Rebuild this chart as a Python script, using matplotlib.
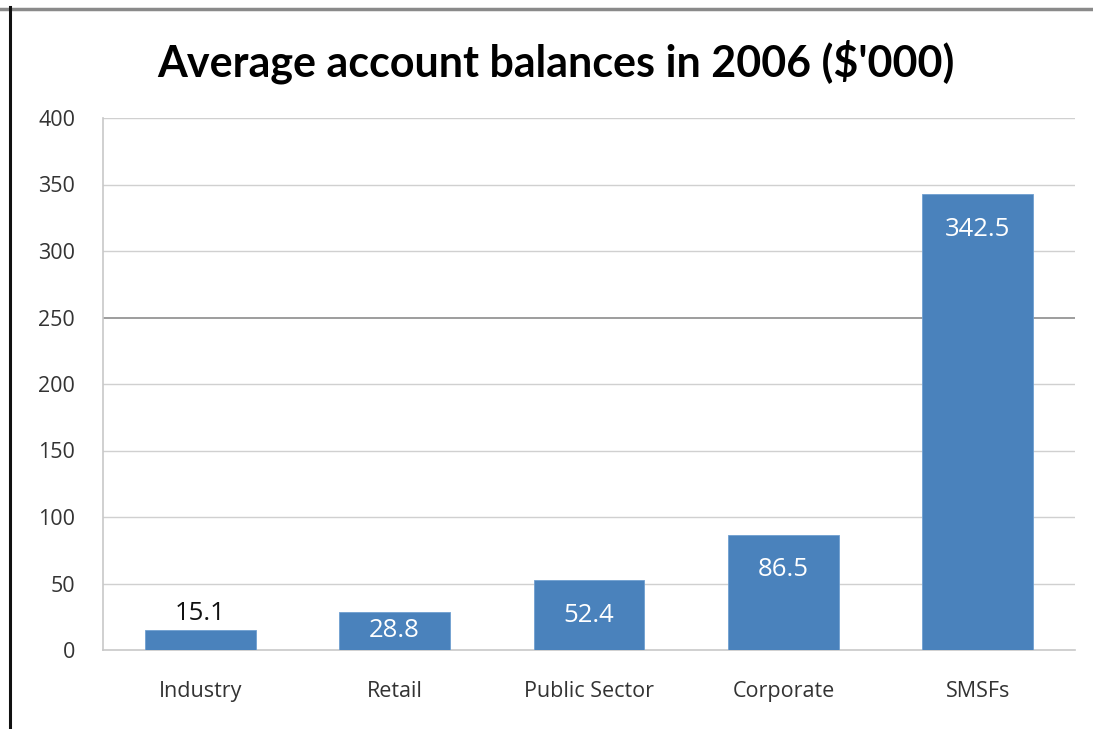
import matplotlib
matplotlib.use("Agg")
import matplotlib.pyplot as plt
from matplotlib.lines import Line2D

categories = ["Industry", "Retail", "Public Sector", "Corporate", "SMSFs"]
values = [15.1, 28.8, 52.4, 86.5, 342.5]
yticks = [0, 50, 100, 150, 200, 250, 300, 350, 400]
title = "Average account balances in 2006 ($'000)"

plt.rcParams['font.family'] = ['Open Sans', 'DejaVu Sans']

W, H = 1093, 729
fig = plt.figure(figsize=(W / 100, H / 100), dpi=100)
ax = fig.add_axes([103 / W, 1 - 650 / H, (1075 - 103) / W, (650 - 118) / H])

x = list(range(len(categories)))
bars = ax.bar(x, values, width=0.57, color="#4a82bc", edgecolor="#6f9fd0",
              linewidth=0.6, zorder=3)

ax.set_xlim(-0.5, len(categories) - 0.5)
ax.set_ylim(0, 400)
ax.set_yticks(yticks)
ax.set_yticklabels([str(t) for t in yticks], fontsize=15.5, color="#333333")
ax.set_xticks(x)
ax.set_xticklabels(categories, fontsize=15.5, color="#333333")
ax.tick_params(axis='y', length=0, pad=20)
ax.tick_params(axis='x', length=0, pad=22)

for t in yticks[1:]:
    col = "#8c8c8c" if t == 250 else "#d0d0d0"
    lw = 1.2 if t == 250 else 1.0
    ax.axhline(t, color=col, lw=lw, zorder=1)

for s in ['top', 'right']:
    ax.spines[s].set_visible(False)
for s in ['left', 'bottom']:
    ax.spines[s].set_color("#c8c8c8")
    ax.spines[s].set_linewidth(1.2)

# value labels
px_per_unit = (650 - 118) / 400
for xi, v in zip(x, values):
    hpx = v * px_per_unit
    if hpx < 25:
        ax.annotate(f"{v}", (xi, v), xytext=(0, 3), textcoords="offset points",
                    ha="center", va="bottom", fontsize=18.5, color="#111111", zorder=4)
    elif hpx < 70:
        ax.annotate(f"{v}", (xi, v / 2), xytext=(0, 0), textcoords="offset points",
                    ha="center", va="center", fontsize=18.5, color="white", zorder=4)
    else:
        ax.annotate(f"{v}", (xi, v), xytext=(0, -25), textcoords="offset points",
                    ha="center", va="center", fontsize=18.5, color="white", zorder=4)

fig.text(556 / W, 1 - 62 / H, title, ha="center", va="center",
         fontsize=31, fontweight="bold", color="#000000", family=['Lato', 'DejaVu Sans'])

# outer frame lines
fig.add_artist(Line2D([0, 1], [1 - 8.5 / H, 1 - 8.5 / H], transform=fig.transFigure,
                      color="#8a8a8a", lw=2.5))
fig.add_artist(Line2D([10 / W, 10 / W], [0, 1 - 7 / H], transform=fig.transFigure,
                      color="#111111", lw=2.2))

fig.savefig("out.png", dpi=100)
